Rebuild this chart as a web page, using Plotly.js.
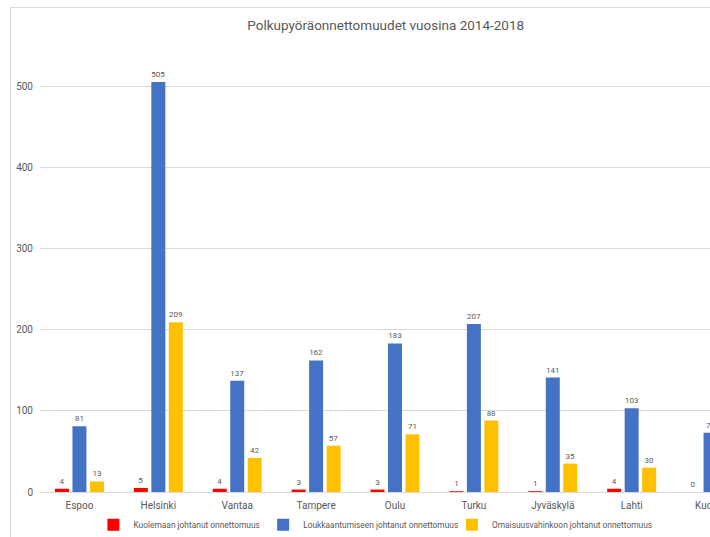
<!DOCTYPE html>
<html>
<head>
<meta charset="utf-8">
<script src="https://cdn.plot.ly/plotly-3.0.1.min.js"></script>
<style>
html, body { margin: 0; padding: 0; background: #fff; overflow: hidden; width: 710px; height: 537px; }
#chart { position: absolute; left: 10px; top: 7px; width: 760px; height: 530px; border: 1px solid #d9d9d9; }
</style>
</head>
<body>
<div id="chart"></div>
<script>
const cities = ['Espoo', 'Helsinki', 'Vantaa', 'Tampere', 'Oulu', 'Turku', 'Jyväskylä', 'Lahti', 'Kuopio'];
const kuolemaan = [4, 5, 4, 3, 3, 1, 1, 4, 0];
const loukkaantumiseen = [81, 505, 137, 162, 183, 207, 141, 103, 73];
const omaisuusvahinkoon = [13, 209, 42, 57, 71, 88, 35, 30, 20];
const seriesNames = ['Kuolemaan johtanut onnettomuus', 'Loukkaantumiseen johtanut onnettomuus', 'Omaisuusvahinkoon johtanut onnettomuus'];
const title = 'Polkupyöräonnettomuudet vuosina 2014-2018';

const colors = ['#FF0000', '#4472C4', '#FFC000'];
const FONT = 'Roboto, "Liberation Sans", sans-serif';
const GRAY = '#595959';
const legendIds = ['legend', 'legend2', 'legend3'];
const legendX = [0.0752, 0.3143, 0.5802];

const allSeries = [kuolemaan, loukkaantumiseen, omaisuusvahinkoon];
const traces = allSeries.map((vals, i) => ({
  type: 'bar',
  name: seriesNames[i],
  legend: legendIds[i],
  x: cities,
  y: vals,
  marker: { color: colors[i], line: { width: 0 } },
  text: vals.map(String),
  textposition: 'outside',
  cliponaxis: false,
  textfont: { family: FONT, size: 8, color: GRAY },
  hoverinfo: 'x+y+name'
}));

const layout = {
  width: 760,
  height: 530,
  margin: { l: 29, r: 21, t: 40, b: 46, autoexpand: false },
  paper_bgcolor: '#ffffff',
  plot_bgcolor: '#ffffff',
  font: { family: FONT, color: GRAY },
  title: {
    text: title,
    font: { family: FONT, size: 13.5, color: GRAY },
    xref: 'container', x: 0.493, xanchor: 'center',
    yref: 'container', y: 0.968, yanchor: 'middle'
  },
  barmode: 'group',
  bargap: 0.335,
  bargroupgap: 0.2,
  xaxis: {
    type: 'category',
    showline: true, linecolor: '#d9d9d9', linewidth: 1,
    showgrid: false, ticks: '',
    tickfont: { family: FONT, size: 10, color: GRAY },
    ticklabelstandoff: 4
  },
  yaxis: {
    range: [0, 546.8],
    dtick: 100, tick0: 0,
    showgrid: true, gridcolor: '#d9d9d9', gridwidth: 1,
    zeroline: false, showline: false, ticks: '',
    tickfont: { family: FONT, size: 10, color: GRAY },
    ticklabelstandoff: 6
  },
  showlegend: true
};

legendIds.forEach((id, i) => {
  layout[id] = {
    orientation: 'h',
    x: legendX[i], xanchor: 'left',
    y: -0.074, yanchor: 'middle',
    font: { family: FONT, size: 8.4, color: GRAY },
    bgcolor: 'rgba(0,0,0,0)'
  };
});

Plotly.newPlot('chart', traces, layout, { displayModeBar: false, staticPlot: true });
</script>
</body>
</html>
